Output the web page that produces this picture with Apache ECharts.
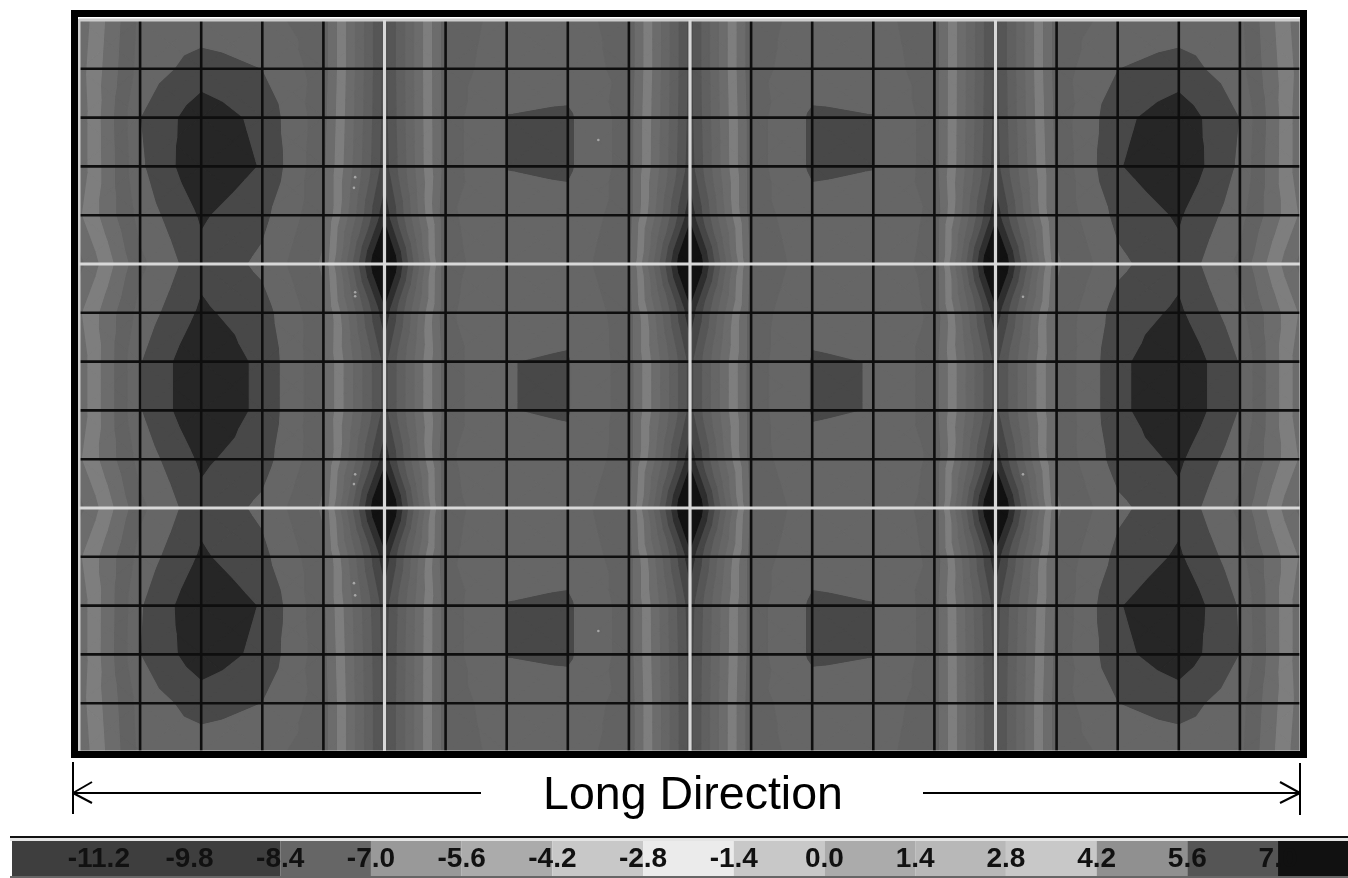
<!DOCTYPE html>
<html><head><meta charset="utf-8">
<style>html,body{margin:0;padding:0;background:#fff}#c{width:1348px;height:878px}</style>
<script src="https://cdn.jsdelivr.net/npm/echarts@6/dist/echarts.min.js"></script>
</head><body><div id="c"></div>
<script>
// Nodal values, one list per vertical mesh line (top to bottom)
const col00=[-0.5,-0.8,-0.6,-0.6,-1.2,0.4,-1.2,-0.6,-0.6,-1.2,0.4,-1.2,-0.6,-0.6,-0.8,-0.5];
const col01=[-6,-6.2,-7,-6.8,-6.2,-5.3,-6.2,-6.95,-6.95,-6.2,-5.3,-6.2,-6.9,-7,-6.2,-6];
const col02=[-6.2,-7.65,-9.3,-9.6,-8.6,-8,-8.68,-9.7,-9.7,-8.68,-8,-8.63,-9.6,-9.3,-7.65,-6.2];
const col03=[-6,-7,-8,-8.3,-7.4,-6.7,-7.6,-8.05,-8.05,-7.6,-6.7,-7.4,-8.3,-8,-7,-6];
const col04=[-5,-5,-4.8,-4.6,-4.6,-4,-4.6,-4.5,-4.5,-4.6,-4,-4.6,-4.6,-4.8,-5,-5];
const col05=[4.5,4.5,4.6,4.8,6.4,10,6.4,4.6,4.6,6.4,10,6.4,4.8,4.6,4.5,4.5];
const col06=[-5,-5,-5,-5,-5.4,-5.3,-5.4,-5,-5,-5.4,-5.3,-5.4,-5,-5,-5,-5];
const col07=[-6,-6.3,-7.06,-7.06,-6.4,-6.2,-6.6,-6.98,-6.98,-6.6,-6.2,-6.4,-7.06,-7.06,-6.3,-6];
const col08=[-6,-6.3,-7.25,-7.25,-6.5,-6.3,-6.7,-7.1,-7.1,-6.7,-6.3,-6.5,-7.25,-7.25,-6.3,-6];
const col09=[-5.2,-5.2,-5,-5,-5,-4.6,-5,-5,-5,-5,-4.6,-5,-5,-5,-5.2,-5.2];
const col10=[4.5,4.5,4.6,4.8,6.4,10,6.4,4.6,4.6,6.4,10,6.4,4.8,4.6,4.5,4.5];
const col11=[-5.2,-5.2,-5,-5,-5,-4.6,-5,-5,-5,-5,-4.6,-5,-5,-5,-5.2,-5.2];
const col12=[-6,-6.3,-7.25,-7.25,-6.5,-6.3,-6.7,-7.1,-7.1,-6.7,-6.3,-6.5,-7.25,-7.25,-6.3,-6];
const col13=[-6,-6.3,-7.06,-7.06,-6.4,-6.2,-6.6,-6.98,-6.98,-6.6,-6.2,-6.4,-7.06,-7.06,-6.3,-6];
const col14=[-5,-5,-5,-5,-5.4,-5.3,-5.4,-5,-5,-5.4,-5.3,-5.4,-5,-5,-5,-5];
const col15=[4.5,4.5,4.6,4.8,6.4,10,6.4,4.6,4.6,6.4,10,6.4,4.8,4.6,4.5,4.5];
const col16=[-5,-5,-4.8,-4.6,-4.6,-4,-4.6,-4.5,-4.5,-4.6,-4,-4.6,-4.6,-4.8,-5,-5];
const col17=[-6,-7,-8,-8.3,-7.4,-6.7,-7.6,-8.05,-8.05,-7.6,-6.7,-7.4,-8.3,-8,-7,-6];
const col18=[-6.2,-7.65,-9.3,-9.6,-8.6,-8,-8.68,-9.7,-9.7,-8.68,-8,-8.63,-9.6,-9.3,-7.65,-6.2];
const col19=[-6,-6.2,-7,-6.8,-6.2,-5.3,-6.2,-6.95,-6.95,-6.2,-5.3,-6.2,-6.9,-7,-6.2,-6];
const col20=[-0.5,-0.8,-0.6,-0.6,-1.2,0.4,-1.2,-0.6,-0.6,-1.2,0.4,-1.2,-0.6,-0.6,-0.8,-0.5];
const meshColumns=[col00,col01,col02,col03,col04,col05,col06,col07,col08,col09,col10,col11,col12,col13,col14,col15,col16,col17,col18,col19,col20];

// Contour levels and the grey of each band in the plot
const bandLevels=[-99,-8.4,-7,-5.6,-4.2,-2.8,-1.4,0,1.4,2.8,4.2,5.6,7,99];
const bandGrays=['#262626','#484848','#666666','#626262','#6c6c6c','#7e7e7e','#6c6c6c','#666666','#606060','#565656','#464646','#2e2e2e','#111111'];

// Legend strip
const legendStops=[-12.54,-8.4,-7,-5.6,-4.2,-2.8,-1.4,0,1.4,2.8,4.2,5.6,7,8.08];
const legendGrays=['#3e3e3e','#666666','#999999','#ababab','#c8c8c8','#ebebeb','#c8c8c8','#ababab','#b8b8b8','#c8c8c8','#909090','#555555','#111111'];
const legendTicks=[-11.2,-9.8,-8.4,-7,-5.6,-4.2,-2.8,-1.4,0,1.4,2.8,4.2,5.6,7];

// Mesh line positions
const majorX=[5,10,15], majorY=[5,10];
const minorX=[1,2,3,4,6,7,8,9,11,12,13,14,16,17,18,19];
const minorY=[1,2,3,4,6,7,8,9,11,12,13,14];
const borderX=[0,20], borderY=[0,15];

// Small light specks in mesh units
const speckX=[4.52,4.50,4.52,4.52,4.52,4.50,4.50,4.52,8.50,8.50,15.45,15.45];
const speckY=[3.22,3.44,5.58,5.66,9.31,9.51,11.54,11.79,2.46,12.52,5.67,9.31];

function clip(poly,test,level){
  const out=[];
  for(let i=0;i<poly.length;i++){
    const a=poly[i],b=poly[(i+1)%poly.length];
    const ia=test*(a[2]-level)>=0, ib=test*(b[2]-level)>=0;
    if(ia) out.push(a);
    if(ia!==ib){const t=(level-a[2])/(b[2]-a[2]);out.push([a[0]+t*(b[0]-a[0]),a[1]+t*(b[1]-a[1]),level]);}
  }
  return out;
}
const polys=[];
for(let i=0;i<meshColumns.length-1;i++){
  for(let j=0;j<col00.length-1;j++){
    const A=[i,j,meshColumns[i][j]],B=[i+1,j,meshColumns[i+1][j]],C=[i+1,j+1,meshColumns[i+1][j+1]],D=[i,j+1,meshColumns[i][j+1]];
    const M=[i+.5,j+.5,(A[2]+B[2]+C[2]+D[2])/4];
    [[A,B,M],[B,C,M],[C,D,M],[D,A,M]].forEach(tri=>{
      for(let k=0;k<bandGrays.length;k++){
        let p=clip(tri,1,bandLevels[k]);
        if(p.length>2)p=clip(p,-1,bandLevels[k+1]);
        if(p.length>2)polys.push({k,p});
      }
    });
  }
}
polys.sort((a,b)=>a.k-b.k);
const lineData=[];
minorX.forEach(v=>lineData.push(['x',v,'m']));minorY.forEach(v=>lineData.push(['y',v,'m']));
borderX.forEach(v=>lineData.push(['x',v,'b']));borderY.forEach(v=>lineData.push(['y',v,'b']));
majorX.forEach(v=>lineData.push(['x',v,'M']));majorY.forEach(v=>lineData.push(['y',v,'M']));

const ln=(x1,y1,x2,y2,w,c)=>({type:'line',silent:true,shape:{x1,y1,x2,y2},style:{stroke:c||'#000',lineWidth:w||2}});
const graphics=[
  {type:'rect',silent:true,z:20,shape:{x:74.5,y:13.5,width:1229,height:741},style:{fill:'none',stroke:'#000',lineWidth:7}},
  ln(73,762,73,814),ln(72,793,481,793),ln(73,793,92,782),ln(73,793,92,803),
  ln(1300,763,1300,815),ln(923,793,1301,793),ln(1300,793,1280,782),ln(1300,793,1280,803),
  {type:'text',silent:true,style:{x:693,y:796,text:'Long Direction',font:'46.5px "Liberation Sans"',fill:'#000',textAlign:'center',textVerticalAlign:'middle'}},
  ln(10,837,1348,837,2,'#111'),ln(10,839.5,1348,839.5,3,'#e4e4e4'),ln(10,877,1348,877,2,'#666'),
  {type:'group',z:30,children:[
    ln(537,385,537,345,2,'#ddd'),ln(537,385,574,385,2,'#ddd'),
    {type:'polygon',silent:true,shape:{points:[[537,337],[532,350],[542,350]]},style:{fill:'#ddd'}},
    {type:'polygon',silent:true,shape:{points:[[584,385],[571,380],[571,390]]},style:{fill:'#ddd'}},
    {type:'text',silent:true,style:{x:537,y:326,text:'Y',font:'11px "Liberation Sans"',fill:'#bbb',textAlign:'center',textVerticalAlign:'middle'}},
    {type:'text',silent:true,style:{x:594,y:385,text:'X',font:'11px "Liberation Sans"',fill:'#bbb',textAlign:'center',textVerticalAlign:'middle'}}
  ]}
];

const chart=echarts.init(document.getElementById('c'),null,{renderer:'canvas'});
chart.setOption({
  animation:false,
  backgroundColor:'#fff',
  grid:[
    {left:79,top:20,width:1222,height:732},
    {left:12,top:841,width:1336,height:35}
  ],
  xAxis:[
    {gridIndex:0,type:'value',min:0,max:20,interval:1,show:false},
    {gridIndex:1,type:'value',min:legendStops[0],max:legendStops[legendStops.length-1],z:10,
     axisLine:{show:false},axisTick:{show:false},splitLine:{show:false},
     axisLabel:{inside:true,margin:3,customValues:legendTicks,formatter:v=>Number(v).toFixed(1),
       color:'#111',fontFamily:'Liberation Sans',fontWeight:'bold',fontSize:28,hideOverlap:false}}
  ],
  yAxis:[
    {gridIndex:0,type:'value',min:0,max:15,interval:1,inverse:true,show:false},
    {gridIndex:1,type:'value',min:0,max:1,show:false}
  ],
  series:[
    {type:'custom',name:'bands',xAxisIndex:0,yAxisIndex:0,silent:true,progressive:0,z:1,
     data:polys.map((p,i)=>[i]),
     renderItem(params,api){
       const q=polys[params.dataIndex];const c=bandGrays[q.k];
       return {type:'polygon',shape:{points:q.p.map(v=>api.coord([v[0],v[1]]))},style:{fill:c,stroke:c,lineWidth:1.2,lineJoin:'round'}};
     }},
    {type:'custom',name:'mesh',xAxisIndex:0,yAxisIndex:0,silent:true,progressive:0,z:3,
     data:lineData.map((d,i)=>[i]),
     renderItem(params,api){
       const d=lineData[params.dataIndex];
       const a=d[0]==='x'?api.coord([d[1],0]):api.coord([0,d[1]]);
       const b=d[0]==='x'?api.coord([d[1],15]):api.coord([20,d[1]]);
       const st=d[2]==='m'?{stroke:'#0e0e0e',lineWidth:2.6}:d[2]==='b'?{stroke:'#cccccc',lineWidth:3}:{stroke:'#d8d8d8',lineWidth:3.2};
       return {type:'line',shape:{x1:a[0],y1:a[1],x2:b[0],y2:b[1]},style:st};
     }},
    {type:'scatter',name:'specks',xAxisIndex:0,yAxisIndex:0,silent:true,z:4,symbolSize:2.6,
     itemStyle:{color:'#b8b8b8'},data:speckX.map((x,i)=>[x,speckY[i]])},
    {type:'custom',name:'legend',xAxisIndex:1,yAxisIndex:1,silent:true,z:1,
     data:legendGrays.map((g,i)=>[i]),
     renderItem(params,api){
       const i=params.dataIndex;
       const a=api.coord([legendStops[i],1]),b=api.coord([legendStops[i+1],0]);
       return {type:'rect',shape:{x:a[0],y:a[1],width:b[0]-a[0],height:b[1]-a[1]},style:{fill:legendGrays[i]}};
     }}
  ],
  graphic:graphics
});
</script></body></html>
